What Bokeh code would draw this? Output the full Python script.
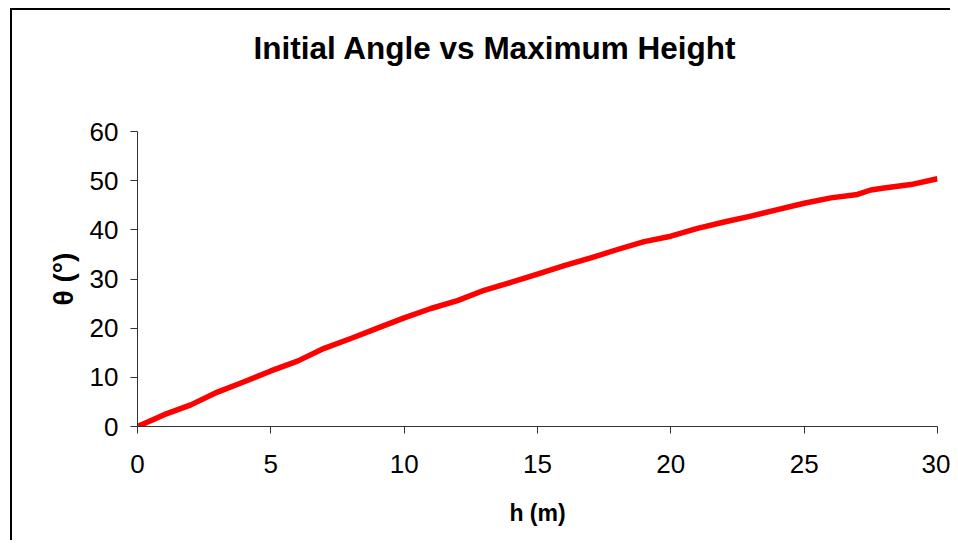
from bokeh.plotting import figure
from bokeh.models import Range1d, FixedTicker, Title
from bokeh.embed import file_html
from bokeh.resources import INLINE

# Data
h_m = [0, 1, 2, 3, 4, 5, 6, 7, 8, 9, 10, 11, 12, 13, 14, 15, 16, 17, 18, 19,
       20, 21, 22, 23, 24, 25, 26, 27, 27.5, 28, 29, 30]
theta_deg = [0.0, 2.4, 4.4, 7.0, 9.1, 11.3, 13.3, 15.9, 17.9, 20.0, 22.1, 24.0,
             25.6, 27.7, 29.3, 31.0, 32.7, 34.3, 36.0, 37.6, 38.7, 40.3, 41.6,
             42.8, 44.1, 45.4, 46.5, 47.2, 48.1, 48.5, 49.2, 50.4]
x_ticks = [0, 5, 10, 15, 20, 25, 30]
y_ticks = [0, 10, 20, 30, 40, 50, 60]
title_text = "Initial Angle vs Maximum Height"
x_label = "h (m)"
y_label = "θ (°)"

FONT = "Liberation Sans"

p = figure(width=950, height=540, output_backend="svg", toolbar_location=None,
           x_range=Range1d(0, 30), y_range=Range1d(0, 60),
           min_border_left=137, min_border_right=13,
           min_border_top=131, min_border_bottom=114, title=title_text)
p.border_fill_color = None
p.background_fill_color = "white"
p.styles = {"background-color": "white",
            "background-image": "linear-gradient(#000,#000), linear-gradient(#000,#000)",
            "background-size": "2px 100%, 100% 2px",
            "background-position": "10px 8px, 10px 8px",
            "background-repeat": "no-repeat"}
p.outline_line_color = None
p.xgrid.grid_line_color = None
p.ygrid.grid_line_color = None

# spacer between the plot frame and the title
p.add_layout(Title(text=" ", text_font_size="10px", standoff=26), "above")

p.title.text_font = FONT
p.title.text_font_style = "bold"
p.title.text_font_size = "31.5px"
p.title.text_color = "black"
p.title.align = "left"
p.title.offset = 116
p.title.vertical_align = "top"
p.title.standoff = 50

p.line(h_m, theta_deg, line_color="#FF0000", line_width=5.5, line_join="round")

for ax, ticks in ((p.xaxis, x_ticks), (p.yaxis, y_ticks)):
    ax.ticker = FixedTicker(ticks=ticks)
    ax.axis_line_color = "#333333"
    ax.axis_line_width = 1
    ax.major_tick_line_color = "#333333"
    ax.major_tick_in = 0
    ax.major_tick_out = 7
    ax.minor_tick_line_color = None
    ax.major_label_text_font = FONT
    ax.major_label_text_font_size = "26px"
    ax.major_label_text_color = "black"
    ax.axis_label_text_font = FONT
    ax.axis_label_text_font_style = "bold"
    ax.axis_label_text_color = "black"

p.xaxis.axis_label = x_label
p.yaxis.axis_label = y_label
p.xaxis.axis_label_text_font_size = "23px"
p.yaxis.axis_label_text_font_size = "28px"
p.yaxis.major_label_standoff = 12
p.xaxis.major_label_standoff = 21
p.xaxis.axis_label_standoff = 24
p.yaxis.axis_label_standoff = 8

open("out.html", "w").write(file_html(p, INLINE))
